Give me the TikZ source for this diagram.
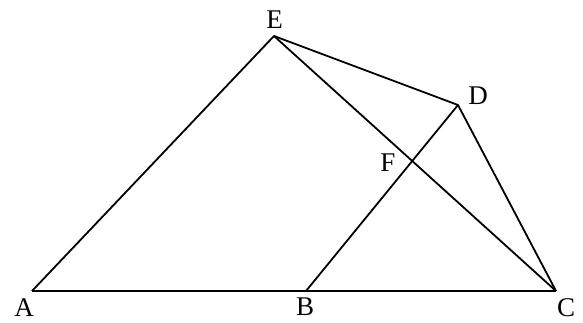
\documentclass[tikz,border=0pt]{standalone}
\usepackage{fontspec}
\setmainfont{Liberation Serif}
\begin{document}
\begin{tikzpicture}
	[
		x=1pt, y=-1pt,
		edge/.style={line width=1.8pt, line join=round},
		lbl/.style={inner sep=0pt, font=\fontsize{27}{30}\selectfont}
	]
	\useasboundingbox (0,0) rectangle (583,322);
	% Points
	\coordinate (A) at (32,291);
	\coordinate (B) at (306,291);
	\coordinate (C) at (556,291);
	\coordinate (E) at (274,36);
	\coordinate (D) at (458,105);
	\coordinate (F) at (intersection of E--C and B--D);
	% Sides
	\draw[edge] (A) -- (C);
	\draw[edge] (A) -- (E) -- (D) -- (C);
	\draw[edge] (E) -- (C);
	\draw[edge] (B) -- (D);
	% Labels
	\node[lbl] (lA) at (24,307.5) {A};
	\node[lbl] (lB) at (305,307) {B};
	\node[lbl] (lC) at (566,307.5) {C};
	\node[lbl] (lD) at (478,96) {D};
	\node[lbl] (lE) at (274.5,20) {E};
	\node[lbl] (lF) at (388,163) {F};
\end{tikzpicture}
\end{document}
